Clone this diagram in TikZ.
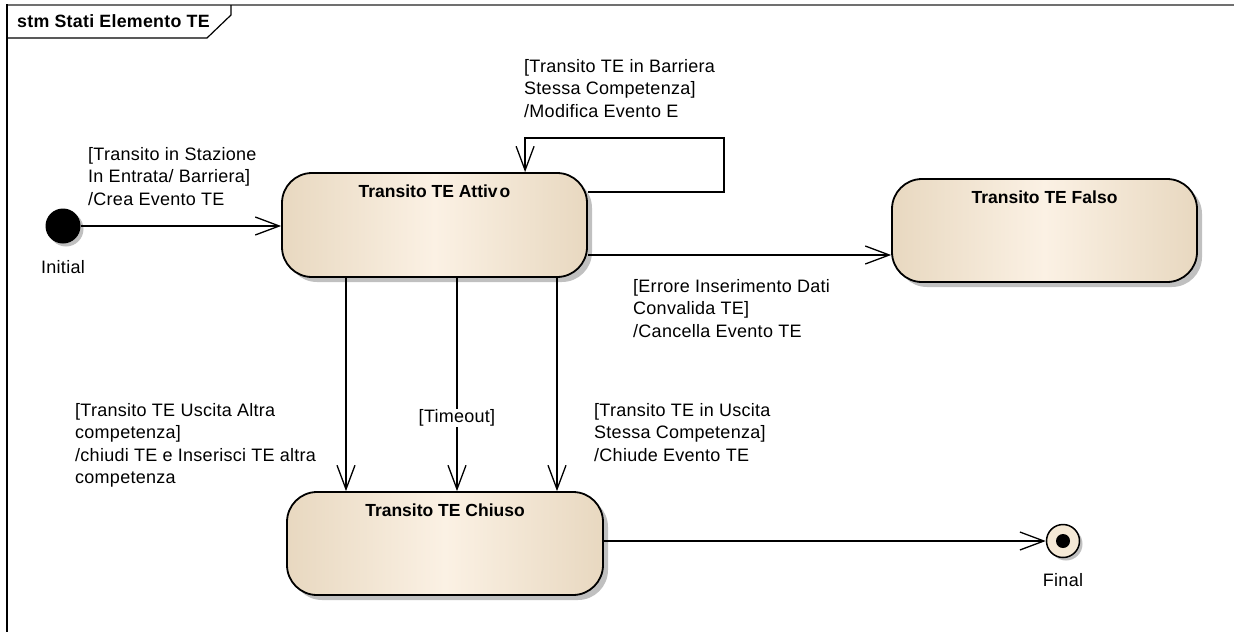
\documentclass[tikz,border=0pt]{standalone}
\usepackage{fontspec}
\setmainfont{Liberation Sans}
\newfontfamily\guardfont{Liberation Sans}[LetterSpace=1.5]
\usetikzlibrary{arrows.meta,shadows}
\definecolor{stateedge}{RGB}{232,216,192}
\definecolor{statemid}{RGB}{251,241,228}
\definecolor{framegray}{RGB}{112,112,112}
\definecolor{finalfill}{RGB}{245,233,214}
\definecolor{shadowgray}{RGB}{192,192,192}

\begin{document}
\begin{tikzpicture}[x=1pt,y=-1pt,
  every node/.style={font=\guardfont\fontsize{18}{22.5}\selectfont},
  statebox/.style={draw=black, line width=1.8pt, rounded corners=30pt,
    inner sep=0pt, left color=stateedge, right color=stateedge,
    middle color=statemid,
    drop shadow={shadow xshift=5pt,shadow yshift=-5pt,fill=shadowgray,opacity=1}},
  statetitle/.style={font=\rmfamily\fontsize{17.5}{22.5}\selectfont\bfseries, inner sep=0pt},
  guard/.style={align=left, anchor=north west, inner sep=0pt},
  tr/.style={draw=black, line width=1.3pt,
    -{Straight Barb[length=24pt,width=18pt,line width=1.3pt]}},
  pseudo/.style={circle, inner sep=0pt,
    drop shadow={shadow xshift=3pt,shadow yshift=-3pt,fill=shadowgray,opacity=1}}
]
\useasboundingbox (0,0) rectangle (1234,632);

% diagram frame and its name tab
\draw[framegray, line width=1.5pt] (7,5) -- (1234,5);
\draw[black, line width=1.3pt] (7,4) -- (7,632);
\draw[black, line width=1.2pt] (7,38) -- (207,38) -- (231,15) -- (231,5);
\node[font=\guardfont\fontsize{17.8}{20}\selectfont\bfseries, anchor=west, inner sep=0pt]
  (frametitle) at (17,21) {stm Stati Elemento TE};

% states
\node[statebox, minimum width=305pt, minimum height=104pt] (attivo) at (434.5,225) {};
\node[statebox, minimum width=305pt, minimum height=103pt] (falso) at (1044.5,230.5) {};
\node[statebox, minimum width=316pt, minimum height=103pt] (chiuso) at (445,543.5) {};
\node[statetitle] (attivoT) at ([yshift=-19pt]attivo.north) {Transito TE Attiv\kern2pt o};
\node[statetitle] (falsoT) at ([yshift=-19pt]falso.north) {Transito TE Falso};
\node[statetitle] (chiusoT) at ([yshift=-19pt]chiuso.north) {Transito TE Chiuso};

% pseudostates
\node[pseudo, fill=black, minimum size=35pt] (initial) at (63,226) {};
\node (initialL) at (63,267) {Initial};
\node[pseudo, draw=black, line width=1.5pt, fill=finalfill, minimum size=33pt] (final) at (1063,541) {};
\fill[black] (final) circle (7pt);
\node (finalL) at (1063,580) {Final};

% transitions
\draw[tr] (initial) -- (initial -| attivo.west);
\node[guard] (gInit) at (88,147) {[Transito in Stazione\\In Entrata/ Barriera]\\/Crea Evento TE};

\coordinate (loopTR) at (724,138);
\draw[tr] ([yshift=-20pt]attivo.north east) -| (loopTR) -| ([xshift=244pt]attivo.north west);
\node[guard] (gLoop) at (524,59) {[Transito TE in Barriera\\Stessa Competenza]\\/Modifica Evento E};

\draw[tr] ([yshift=-30pt]attivo.east) coordinate (toFalso) -- (toFalso -| falso.west);
\node[guard] (gFalso) at (633,279) {[Errore Inserimento Dati\\Convalida TE]\\/Cancella Evento TE};

\coordinate (colA) at (346,0);
\coordinate (colB) at (457,0);
\coordinate (colC) at (557,0);
\draw[tr] (colA |- attivo.south) -- (colA |- chiuso.north);
\draw[tr] (colB |- attivo.south) -- (colB |- chiuso.north);
\draw[tr] (colC |- attivo.south) -- (colC |- chiuso.north);
\node[guard] (gAltra) at (75,403) {[Transito TE Uscita Altra\\competenza]\\/chiudi TE e Inserisci TE altra\\competenza};
\node[fill=white, inner sep=1pt] (gTimeout) at (457,418) {[Timeout]};
\node[guard] (gStessa) at (594,403) {[Transito TE in Uscita\\Stessa Competenza]\\/Chiude Evento TE};

\draw[tr] (final -| chiuso.east) -- (final.west);
\end{tikzpicture}
\end{document}
